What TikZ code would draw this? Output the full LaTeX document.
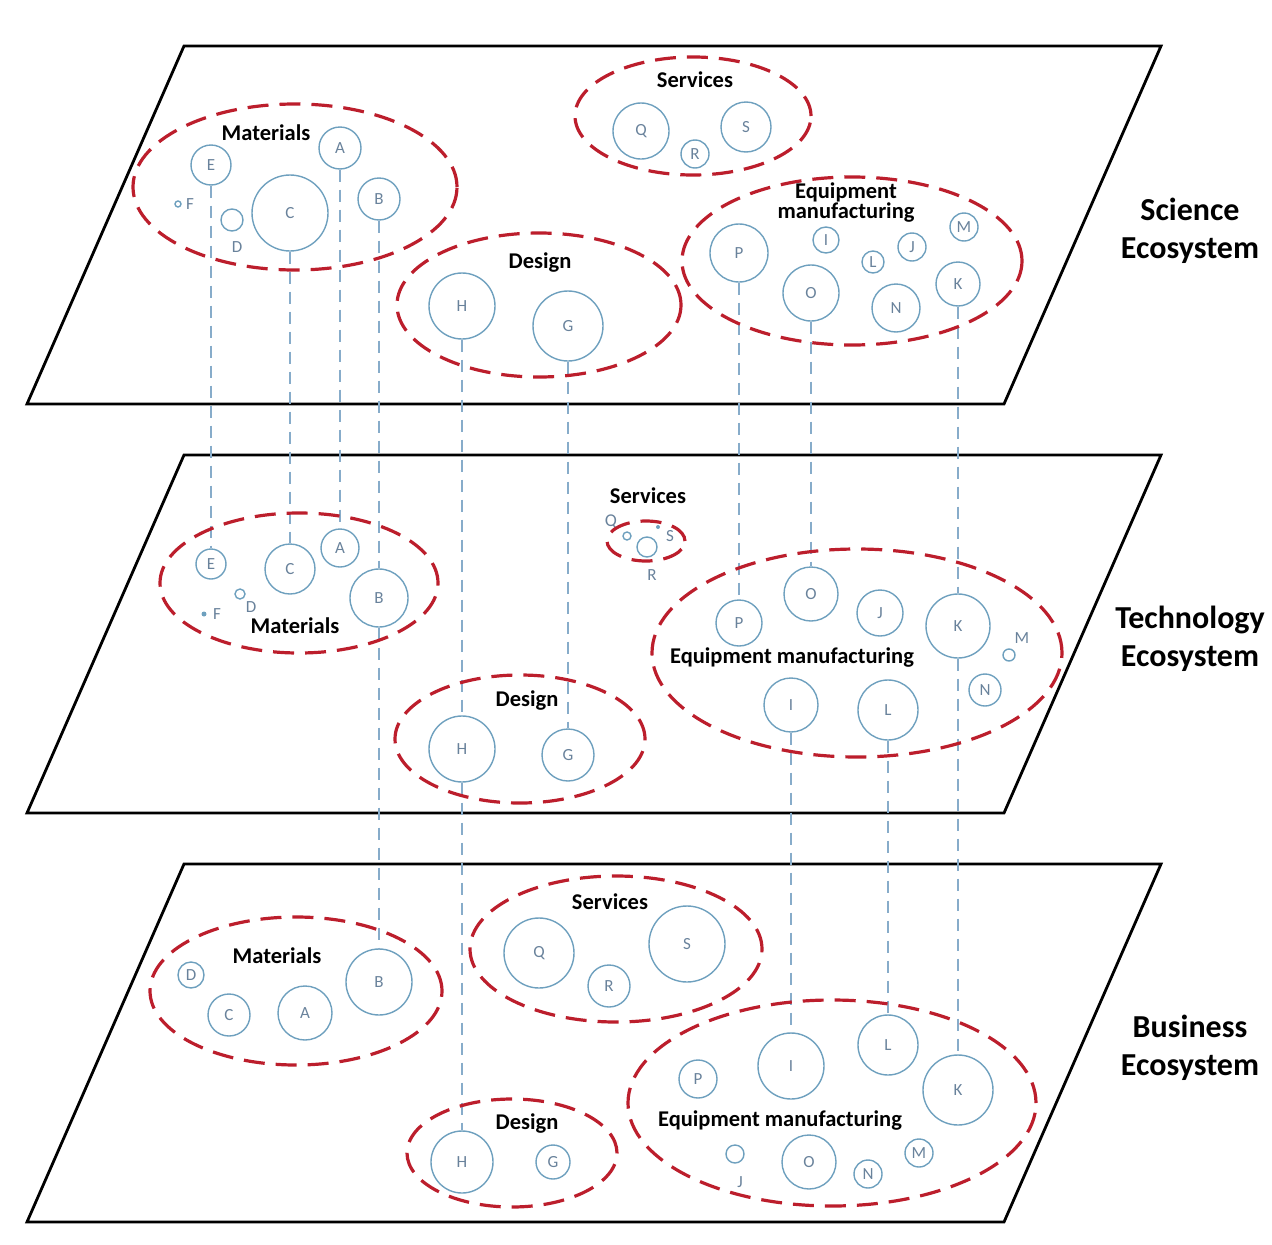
\documentclass[tikz,border=0pt]{standalone}
\usepackage{fontspec}
\setmainfont{Carlito}
\usetikzlibrary{shapes.geometric}
\definecolor{grpred}{RGB}{188,30,44}
\definecolor{entblue}{RGB}{110,160,190}
\definecolor{letblue}{RGB}{105,130,155}
\definecolor{linkblue}{RGB}{135,172,202}

\begin{document}
\begin{tikzpicture}[x=1pt, y=-1pt,
  plane/.style = {draw=black, line width=2.8pt, line join=miter},
  grp/.style 2 args = {ellipse, draw=grpred, line width=3.2pt, dash pattern=on 21pt off 11pt, inner sep=0pt, minimum width=2*#1, minimum height=2*#2},
  ent/.style = {circle, draw=entblue, line width=1.4pt, inner sep=0pt, minimum size=2*#1, text=letblue, font=\fontsize{17}{17}\selectfont},
  lbl/.style = {text=letblue, font=\fontsize{17}{17}\selectfont, inner sep=0pt},
  link/.style = {draw=linkblue, line width=1.3pt, dash pattern=on 12pt off 8pt},
  glabel/.style = {font=\bfseries\fontsize{22.5}{20}\selectfont, align=center, inner sep=0pt},
  eco/.style = {font=\bfseries\fontsize{32}{38}\selectfont, align=center, inner sep=0pt}]

\useasboundingbox (0,0) rectangle (1272,1245);

% the three planes
\draw[plane] (184,46) -- (1161,46) -- (1004,404) -- (27,404) -- cycle;
\draw[plane] (184,455) -- (1161,455) -- (1004,813) -- (27,813) -- cycle;
\draw[plane] (184,864) -- (1161,864) -- (1004,1222) -- (27,1222) -- cycle;

\node[eco] (sci) at (1190,231) {Science\\Ecosystem};
\node[eco] (tec) at (1190,639) {Technology\\Ecosystem};
\node[eco] (bus) at (1190,1048) {Business\\Ecosystem};

% science ecosystem
\node[ent=20] (sE) at (211,165) {E};
\node[ent=21] (sA) at (340,148) {A};
\node[ent=21] (sB) at (379,199) {B};
\node[ent=38] (sC) at (290,213) {C};
\node[ent=11] (sD) at (232,220) {};
\node[lbl] (sDl) at (237,247) {D};
\node[ent=3] (sF) at (178,204) {};
\node[lbl] (sFl) at (190,204) {F};
\node[ent=33] (sH) at (462,306) {H};
\node[ent=35] (sG) at (568,326) {G};
\node[ent=28] (sQ) at (641,131) {Q};
\node[ent=14] (sR) at (695,154) {R};
\node[ent=25] (sS) at (746,127) {S};
\node[ent=29] (sP) at (739,253) {P};
\node[ent=13] (sI) at (826,240) {I};
\node[ent=11] (sL) at (873,262) {L};
\node[ent=14] (sJ) at (912,247) {J};
\node[ent=14] (sM) at (964,227) {M};
\node[ent=28] (sO) at (811,293) {O};
\node[ent=24] (sN) at (896,308) {N};
\node[ent=22] (sK) at (958,284) {K};

% technology ecosystem
\node[ent=15] (tE) at (211,564) {E};
\node[ent=25] (tC) at (290,569) {C};
\node[ent=19] (tA) at (340,548) {A};
\node[ent=29] (tB) at (379,598) {B};
\node[ent=5] (tD) at (240,594) {};
\node[lbl] (tDl) at (251,607) {D};
\node[circle, fill=entblue, inner sep=0pt, minimum size=5] (tF) at (204,614) {};
\node[lbl] (tFl) at (217,614) {F};
\node[ent=33] (tH) at (462,749) {H};
\node[ent=26] (tG) at (568,755) {G};
\node[lbl, font=\fontsize{18}{18}\selectfont] (tQ) at (611,522) {Q};
\node[ent=4] (tQc) at (627,536) {};
\node[ent=10] (tR) at (647,547) {};
\node[lbl] (tRl) at (652,575) {R};
\node[circle, fill=entblue, inner sep=0pt, minimum size=4] (tS) at (658,527) {};
\node[lbl] (tSl) at (670,536) {S};
\node[ent=23] (tP) at (739,623) {P};
\node[ent=27] (tO) at (811,594) {O};
\node[ent=23] (tJ) at (880,613) {J};
\node[ent=32] (tK) at (958,626) {K};
\node[ent=6] (tM) at (1009,655) {};
\node[lbl] (tMl) at (1022,638) {M};
\node[ent=16] (tN) at (985,690) {N};
\node[ent=27] (tI) at (791,705) {I};
\node[ent=30] (tL) at (888,710) {L};

% business ecosystem
\node[ent=13] (bD) at (191,975) {D};
\node[ent=21] (bC) at (229,1015) {C};
\node[ent=27] (bA) at (305,1013) {A};
\node[ent=33] (bB) at (379,982) {B};
\node[ent=31] (bH) at (462,1162) {H};
\node[ent=17] (bG) at (553,1162) {G};
\node[ent=35] (bQ) at (539,953) {Q};
\node[ent=21] (bR) at (609,986) {R};
\node[ent=38] (bS) at (687,944) {S};
\node[ent=19] (bP) at (698,1079) {P};
\node[ent=33] (bI) at (791,1066) {I};
\node[ent=30] (bL) at (888,1045) {L};
\node[ent=35] (bK) at (958,1090) {K};
\node[ent=9] (bJ) at (735,1154) {};
\node[lbl] (bJl) at (740,1182) {J};
\node[ent=27] (bO) at (809,1162) {O};
\node[ent=14] (bN) at (868,1174) {N};
\node[ent=14] (bM) at (919,1153) {M};

% links between ecosystems
\draw[link] (sE.south) -- (tE.north);
\draw[link] (sC.south) -- (tC.north);
\draw[link] (sA.south) -- (tA.north);
\draw[link] (sB.south) -- (tB.north);
\draw[link] (sH.south) -- (tH.north);
\draw[link] (sG.south) -- (tG.north);
\draw[link] (sP.south) -- (tP.north);
\draw[link] (sO.south) -- (tO.north);
\draw[link] (sK.south) -- (tK.north);
\draw[link] (tB.south) -- (bB.north);
\draw[link] (tH.south) -- (bH.north);
\draw[link] (tI.south) -- (bI.north);
\draw[link] (tL.south) -- (bL.north);
\draw[link] (tK.south) -- (bK.north);

% groups
\node[grp={162}{83}] (sMat) at (295,187) {};
\node[grp={118}{59}] (sSer) at (693,116) {};
\node[grp={142}{72}] (sDes) at (539,305) {};
\node[grp={170}{84}] (sEqu) at (852,261) {};
\node[glabel] (sMatl) at (266,133) {Materials};
\node[glabel] (sSerl) at (695,80) {Services};
\node[glabel] (sDesl) at (540,263) {Design};
\node[glabel] (sEqul) at (846,203) {Equipment\\manufacturing};

\node[grp={139}{70}] (tMat) at (299,583) {};
\node[grp={39}{20}] (tSer) at (646,541) {};
\node[grp={125}{64}] (tDes) at (520,739) {};
\node[grp={205}{104}] (tEqu) at (857,653) {};
\node[glabel] (tMatl) at (295,626) {Materials};
\node[glabel] (tSerl) at (648,496) {Services};
\node[glabel] (tDesl) at (527,701) {Design};
\node[glabel] (tEqul) at (792,658) {Equipment manufacturing};

\node[grp={146}{74}] (bMat) at (296,991) {};
\node[grp={146}{73}] (bSer) at (616,949) {};
\node[grp={105}{54}] (bDes) at (512,1153) {};
\node[grp={204}{103}] (bEqu) at (832,1103) {};
\node[glabel] (bMatl) at (277,956) {Materials};
\node[glabel] (bSerl) at (610,902) {Services};
\node[glabel] (bDesl) at (527,1123) {Design};
\node[glabel] (bEqul) at (780,1120) {Equipment manufacturing};

\end{tikzpicture}
\end{document}
